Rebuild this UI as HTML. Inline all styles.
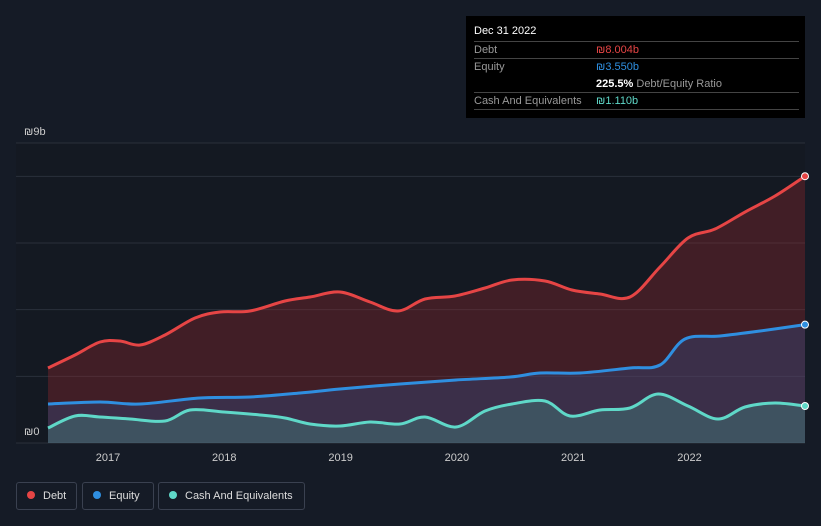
<!DOCTYPE html>
<html><head><meta charset="utf-8"><style>
body{margin:0;background:#151b26;width:821px;height:526px;overflow:hidden;font-family:"Liberation Sans",sans-serif;}
#tip{position:absolute;left:466px;top:16px;width:339px;height:102px;background:#000;color:#fff;font-size:11px;}
.row{position:absolute;left:8px;width:325px;border-top:1px solid #444;height:17px;line-height:17px;}
.lg{position:absolute;top:482px;height:26px;border:1px solid #3a4150;border-radius:3px;color:#ddd;font-size:11px;line-height:26px;}
.dot{display:inline-block;width:8px;height:8px;border-radius:50%;margin:0 8px 0 10px;}
</style></head><body>
<svg id="chart" width="821" height="526" style="position:absolute;left:0;top:0"></svg>
<div id="tip">
<div style="position:absolute;left:8px;top:9px;font-size:11px">Dec 31 2022</div>
<div class="row" style="top:25px"><span style="color:#999">Debt</span><span style="position:absolute;left:122px;color:#e64545">₪8.004b</span></div>
<div class="row" style="top:42px"><span style="color:#999">Equity</span><span style="position:absolute;left:122px;color:#2f8fe0">₪3.550b</span></div>
<div style="position:absolute;left:130px;top:60px;line-height:17px"><b>225.5%</b> <span style="color:#999">Debt/Equity Ratio</span></div>
<div class="row" style="top:76px"><span style="color:#999">Cash And Equivalents</span><span style="position:absolute;left:122px;color:#5fd8c8">₪1.110b</span></div>
<div class="row" style="top:93px;height:0"></div>
</div>
<div class="lg" style="left:16px;width:59px"><span class="dot" style="background:#e64545"></span>Debt</div>
<div class="lg" style="left:82px;width:70px"><span class="dot" style="background:#2f8fe0"></span>Equity</div>
<div class="lg" style="left:158px;width:145px"><span class="dot" style="background:#5fd8c8"></span>Cash And Equivalents</div>
<script>
const debtX=[48,75,100,120,140,165,195,220,250,285,310,340,370,398,425,455,485,512,545,572,600,630,660,688,715,745,775,805];
const debtV=[2.25,2.64,3.03,3.06,2.94,3.24,3.75,3.93,3.96,4.26,4.38,4.53,4.23,3.96,4.32,4.41,4.65,4.89,4.86,4.59,4.47,4.38,5.28,6.15,6.42,6.93,7.41,8.004];
const eqX=[48,100,140,200,250,300,340,400,456,510,540,580,630,660,685,720,760,805];
const eqV=[1.17,1.23,1.17,1.35,1.38,1.5,1.62,1.77,1.89,1.98,2.1,2.1,2.25,2.34,3.12,3.21,3.36,3.55];
const cashX=[48,75,100,130,165,190,224,260,285,310,340,370,400,425,456,485,512,545,570,600,630,658,688,718,745,775,805];
const cashV=[0.45,0.81,0.78,0.72,0.66,0.99,0.93,0.84,0.75,0.57,0.51,0.63,0.57,0.78,0.48,0.96,1.17,1.26,0.81,0.99,1.05,1.47,1.11,0.72,1.08,1.2,1.11];
const yTicks=[0,2,4,6,8,9];
const years=[2017,2018,2019,2020,2021,2022];
const NS='http://www.w3.org/2000/svg';
const svg=document.getElementById('chart');
const toYear=x=>2017+(x-108)/116.3;
const xS=t=>108+(t-2017)*116.3;
const yS=v=>443-v*33.333;
function el(tag,a){const e=document.createElementNS(NS,tag);for(const k in a)e.setAttribute(k,a[k]);svg.appendChild(e);return e;}
function path(xs,vs){const p=xs.map((x,i)=>[xS(toYear(x)),yS(vs[i])]);let d='M'+p[0][0]+','+p[0][1];
for(let i=0;i<p.length-1;i++){const p0=p[Math.max(0,i-1)],p1=p[i],p2=p[i+1],p3=p[Math.min(p.length-1,i+2)];
d+=` C${p1[0]+(p2[0]-p0[0])/6},${p1[1]+(p2[1]-p0[1])/6} ${p2[0]-(p3[0]-p1[0])/6},${p2[1]-(p3[1]-p1[1])/6} ${p2[0]},${p2[1]}`;}return {d,p};}
const bg=el('rect',{x:16,y:143,width:789,height:300,fill:'#141922'});

yTicks.forEach(v=>{const l=el('line',{x1:16,x2:805,y1:yS(v),y2:yS(v),stroke:'#2a303b','stroke-width':1});
});
[0,9].forEach(v=>{const t=el('text',{x:24,y:yS(v)-8,fill:'#ccc','font-size':11});t.textContent='₪'+v+(v?'b':'');
});
years.forEach(y=>{const t=el('text',{x:xS(y),y:461,fill:'#ccc','font-size':11,'text-anchor':'middle'});t.textContent=y;
});
const series=[[debtX,debtV,'#e64545','rgba(150,40,45,0.35)','debt'],[eqX,eqV,'#2f8fe0','rgba(50,80,140,0.35)','equity'],[cashX,cashV,'#5fd8c8','rgba(70,150,140,0.35)','cash']];
series.forEach(([xs,vs,c,f,n])=>{const {d,p}=path(xs,vs);
const a=el('path',{d:d+` L${p[p.length-1][0]},443 L${p[0][0]},443 Z`,fill:f});

const l=el('path',{d,fill:'none',stroke:c,'stroke-width':3});

const q=p[p.length-1];const m=el('circle',{cx:q[0],cy:q[1],r:3.5,fill:c,stroke:'#fff','stroke-width':1});
});
</script>
</body></html>
